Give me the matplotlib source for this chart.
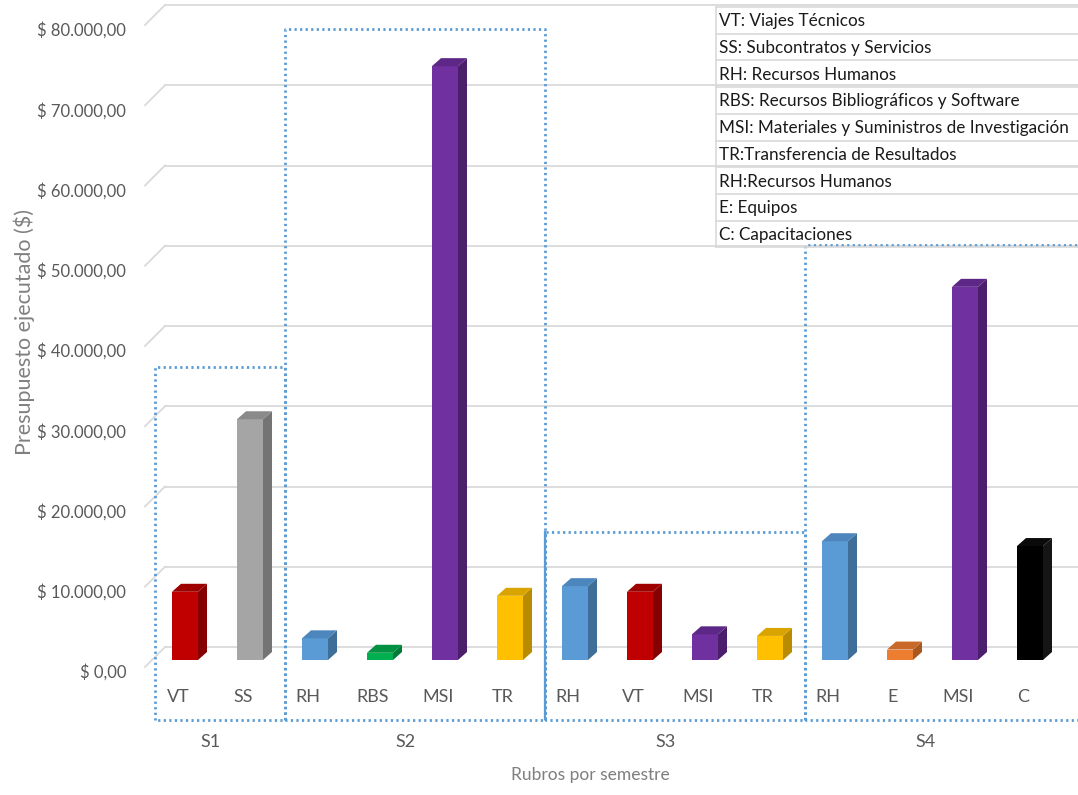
import matplotlib
matplotlib.use("Agg")
import matplotlib.pyplot as plt
from matplotlib.patches import Polygon
from matplotlib.transforms import ScaledTranslation, blended_transform_factory

# values (budget executed per item and semester)
semestres = ["S1", "S2", "S3", "S4"]
rubros = [["VT", "SS"],
          ["RH", "RBS", "MSI", "TR"],
          ["RH", "VT", "MSI", "TR"],
          ["RH", "E", "MSI", "C"]]
montos = [[8500, 30000],
          [2700, 900, 74000, 8000],
          [9200, 8500, 3200, 3000],
          [14800, 1300, 46500, 14200]]
y_ticks = [0, 10000, 20000, 30000, 40000, 50000, 60000, 70000, 80000]
y_labels = ["$ 0,00", "$ 10.000,00", "$ 20.000,00", "$ 30.000,00", "$ 40.000,00",
            "$ 50.000,00", "$ 60.000,00", "$ 70.000,00", "$ 80.000,00"]
leyenda = ["VT: Viajes Técnicos",
           "SS: Subcontratos y Servicios",
           "RH: Recursos Humanos",
           "RBS: Recursos Bibliográficos y Software",
           "MSI: Materiales y Suministros de Investigación",
           "TR:Transferencia de Resultados",
           "RH:Recursos Humanos",
           "E: Equipos",
           "C: Capacitaciones"]
# height of the dotted box drawn around each semester
box_tops = [37400, 79500, 16800, 52600]

# front / side / top colour of each item
colores = {
    "VT": ("#C00000", "#850000", "#9E0000"),
    "SS": ("#A5A5A5", "#747474", "#8A8A8A"),
    "RH": ("#5B9BD5", "#3F6E98", "#4C86BC"),
    "RBS": ("#00B050", "#007A37", "#009242"),
    "MSI": ("#7030A0", "#4B1F6C", "#5D2787"),
    "TR": ("#FFC000", "#B98B00", "#D9A300"),
    "E": ("#ED7D31", "#A95821", "#C8692A"),
    "C": ("#000000", "#151515", "#0A0A0A"),
}

W, H = 1078, 795
fig = plt.figure(figsize=(W / 100, H / 100), dpi=100)
ax_l, ax_r, ax_t, ax_b = 140, 1078, 0, 720
ax = fig.add_axes([ax_l / W, 1 - ax_b / H, (ax_r - ax_l) / W, (ax_b - ax_t) / H])

px_x = 65.0        # pixels per category
px_y = 0.008025    # pixels per peso
x0_px, y0_px = 178, 667
ax.set_xlim((ax_l - x0_px) / px_x, (ax_r - x0_px) / px_x)
ax.set_ylim((y0_px - ax_b) / px_y, (y0_px - ax_t) / px_y)
for s in ax.spines.values():
    s.set_visible(False)
ax.set_xticks([])

# back wall depth
ddx = 20 / px_x
ddy = 20 / px_y
grid_c = "#DADADA"
xl = ax.get_xlim()
for v in y_ticks:
    ax.plot([xl[0] + 5 / px_x, xl[0] + 5 / px_x + ddx], [v, v + ddy], color=grid_c, lw=1.3, zorder=1)
    ax.plot([xl[0] + 5 / px_x + ddx, xl[1]], [v + ddy, v + ddy], color=grid_c, lw=1.3, zorder=1)

ax.set_yticks(y_ticks)
ax.set_yticklabels(y_labels)
ax.tick_params(axis="y", length=0, pad=10, labelsize=12, labelcolor="#595959")
for lab in ax.get_yticklabels():
    lab.set_fontfamily("Lato")
    lab.set_transform(lab.get_transform() + ScaledTranslation(0, -0.04, fig.dpi_scale_trans))

# bars with a simple oblique 3D look
bw = 26 / px_x
off = 7 / px_x
base = 7 / px_y
bdx = 9 / px_x
bdy = 8 / px_y
trans_lab = blended_transform_factory(ax.transData, ax.transAxes)
pos = 0
group_edges = [pos - 0.5]
for g, (items, vals) in enumerate(zip(rubros, montos)):
    for code, val in zip(items, vals):
        front, side, top = colores[code]
        xa = pos + off - bw / 2
        xb = xa + bw
        yt = base + val
        ax.add_patch(Polygon([(xa, base), (xb, base), (xb, yt), (xa, yt)],
                             closed=True, fc=front, ec="none", zorder=3))
        ax.add_patch(Polygon([(xb, base), (xb + bdx, base + bdy), (xb + bdx, yt + bdy), (xb, yt)],
                             closed=True, fc=side, ec="none", zorder=3))
        ax.add_patch(Polygon([(xa, yt), (xb, yt), (xb + bdx, yt + bdy), (xa + bdx, yt + bdy)],
                             closed=True, fc=top, ec="none", zorder=3))
        ax.text(pos, (ax_b - 697) / (ax_b - ax_t), code, transform=trans_lab, ha="center", va="center",
                fontsize=13, color="#595959", family="Lato")
        pos += 1
    group_edges.append(pos - 0.5)

# dotted boxes around semesters
box_c = "#5B9BD5"
shift = 0.14
yb = ax.get_ylim()[0]
for g, name in enumerate(semestres):
    a = group_edges[g] + shift
    b = group_edges[g + 1] + shift
    if g == len(semestres) - 1:
        b = xl[1] + 0.2
    ax.plot([a, a, b, b, a], [yb, box_tops[g], box_tops[g], yb, yb], color=box_c, lw=2,
            ls=(0, (0.8, 1.2)), zorder=2, clip_on=False)
    ax.text((group_edges[g] + group_edges[g + 1]) / 2, -(742 - ax_b) / (ax_b - ax_t), name,
            transform=trans_lab, ha="center", va="center", fontsize=13, color="#595959",
            family="Lato")
# the S2/S3 border is drawn solid
ax.plot([group_edges[2] + shift] * 2, [yb, box_tops[2]], color=box_c, lw=1.6, zorder=2)

# axis titles
fig.text(24 / W, 1 - 332 / H, "Presupuesto ejecutado ($)", rotation=90, ha="center", va="center",
         fontsize=15.5, color="#808080", family="Lato")
fig.text(590 / W, 1 - 775 / H, "Rubros por semestre", ha="center", va="center",
         fontsize=12.5, color="#7F7F7F", family="Lato")

# abbreviation table, top right
t_left, t_top, row_h = 716, 7, 26.7
for k, txt in enumerate(leyenda):
    y_top = t_top + k * row_h
    fig.add_artist(plt.Line2D([t_left / W, 1], [1 - y_top / H] * 2, color="#D9D9D9", lw=1.2))
    fig.text((t_left + 3) / W, 1 - (y_top + row_h / 2 + 1) / H, txt, ha="left", va="center",
             fontsize=12.3, color="#1A1A1A", family="Lato")
y_end = t_top + len(leyenda) * row_h
fig.add_artist(plt.Line2D([t_left / W, 1], [1 - y_end / H] * 2, color="#D9D9D9", lw=1.2))
fig.add_artist(plt.Line2D([t_left / W] * 2, [1 - t_top / H, 1 - y_end / H], color="#D9D9D9", lw=1.2))

fig.savefig("out.png", dpi=100, facecolor="white")
